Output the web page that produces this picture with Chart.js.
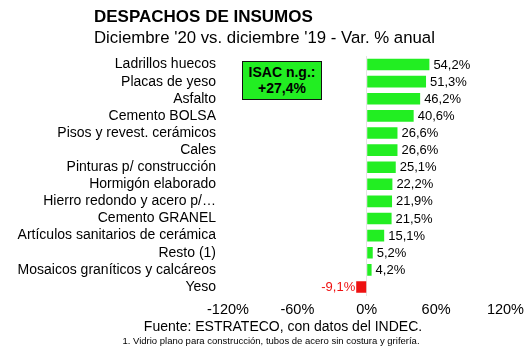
<!DOCTYPE html>
<html>
<head>
<meta charset="utf-8">
<script src="https://cdn.jsdelivr.net/npm/chart.js@4"></script>
<style>
  html, body { margin: 0; padding: 0; background: #fff; }
  #wrap { position: relative; width: 530px; height: 354px; overflow: hidden; font-family: "Liberation Sans", Arial, sans-serif; color: #000; }
  canvas { position: absolute; left: 0; top: 0; }
  .t { position: absolute; white-space: nowrap; }
  #title { left: 94px; top: 7px; font-size: 17px; font-weight: bold; }
  #sub { left: 94px; top: 28px; font-size: 16.8px; }
  #src { left: 0; width: 566px; text-align: center; top: 318px; font-size: 14px; }
  #note { left: 0; width: 542px; text-align: center; top: 335px; font-size: 9.5px; }
  #box { position: absolute; left: 242px; top: 61px; width: 78px; height: 35px; border: 1.5px solid #111; background: #22ee22; font-weight: bold; font-size: 14px; text-align: center; line-height: 16px; padding-top: 2px; }
</style>
</head>
<body>
<div id="wrap">
  <canvas id="c" width="530" height="354"></canvas>
  <div class="t" id="title">DESPACHOS DE INSUMOS</div>
  <div class="t" id="sub">Diciembre '20 vs. diciembre '19 - Var. % anual</div>
  <div id="box">ISAC n.g.:<br>+27,4%</div>
  <div class="t" id="src">Fuente: ESTRATECO, con datos del INDEC.</div>
  <div class="t" id="note">1. Vidrio plano para construcción, tubos de acero sin costura y grifería.</div>
</div>
<script>
const categories = [
  "Ladrillos huecos",
  "Placas de yeso",
  "Asfalto",
  "Cemento BOLSA",
  "Pisos y revest. cerámicos",
  "Cales",
  "Pinturas p/ construcción",
  "Hormigón elaborado",
  "Hierro redondo y acero p/…",
  "Cemento GRANEL",
  "Artículos sanitarios de cerámica",
  "Resto (1)",
  "Mosaicos graníticos y calcáreos",
  "Yeso"
];
const values = [54.2, 51.3, 46.2, 40.6, 26.6, 26.6, 25.1, 22.2, 21.9, 21.5, 15.1, 5.2, 4.2, -9.1];
const xTicks = [-120, -60, 0, 60, 120];

const GREEN = '#22ee22';
const RED = '#ee1111';

const fmt = v => v.toFixed(1).replace('.', ',') + '%';

const valueLabels = {
  id: 'valueLabels',
  afterDatasetsDraw(chart) {
    const ctx = chart.ctx;
    const meta = chart.getDatasetMeta(0);
    ctx.save();
    ctx.font = '13px "Liberation Sans", Arial, sans-serif';
    ctx.textBaseline = 'middle';
    meta.data.forEach((bar, i) => {
      const v = values[i];
      if (v >= 0) {
        ctx.fillStyle = '#000';
        ctx.textAlign = 'left';
        ctx.fillText(fmt(v), bar.x + 4, bar.y + 0.5);
      } else {
        ctx.fillStyle = RED;
        ctx.textAlign = 'right';
        ctx.fillText(fmt(v), bar.x - 1, bar.y + 0.5);
      }
    });
    ctx.restore();
  }
};

new Chart(document.getElementById('c'), {
  type: 'bar',
  data: {
    labels: categories,
    datasets: [{
      data: values,
      backgroundColor: values.map(v => v >= 0 ? GREEN : RED),
      barPercentage: 0.68,
      categoryPercentage: 1.0
    }]
  },
  options: {
    indexAxis: 'y',
    responsive: false,
    animation: false,
    devicePixelRatio: 1,
    layout: { padding: { top: 56, right: 24, bottom: 0, left: 0 } },
    plugins: { legend: { display: false }, tooltip: { enabled: false }, title: { display: false } },
    scales: {
      x: {
        min: -120, max: 120,
        afterBuildTicks(scale) { scale.ticks = xTicks.map(v => ({ value: v })); },
        afterFit(scale) { scale.height = 58.5; },
        ticks: {
          color: '#000',
          padding: 6,
          font: { size: 14.5, family: '"Liberation Sans", Arial, sans-serif' },
          callback: v => v + '%',
          maxRotation: 0
        },
        grid: {
          drawTicks: false,
          color: ctx => (ctx.tick && ctx.tick.value === 0) ? '#e4e4e4' : 'rgba(0,0,0,0)'
        },
        border: { display: false }
      },
      y: {
        afterFit(scale) { scale.width = 228; },
        ticks: {
          color: '#000',
          padding: 12,
          font: { size: 14, family: '"Liberation Sans", Arial, sans-serif' },
          autoSkip: false
        },
        grid: { display: false, drawTicks: false },
        border: { display: false }
      }
    }
  },
  plugins: [valueLabels]
});
</script>
</body>
</html>
